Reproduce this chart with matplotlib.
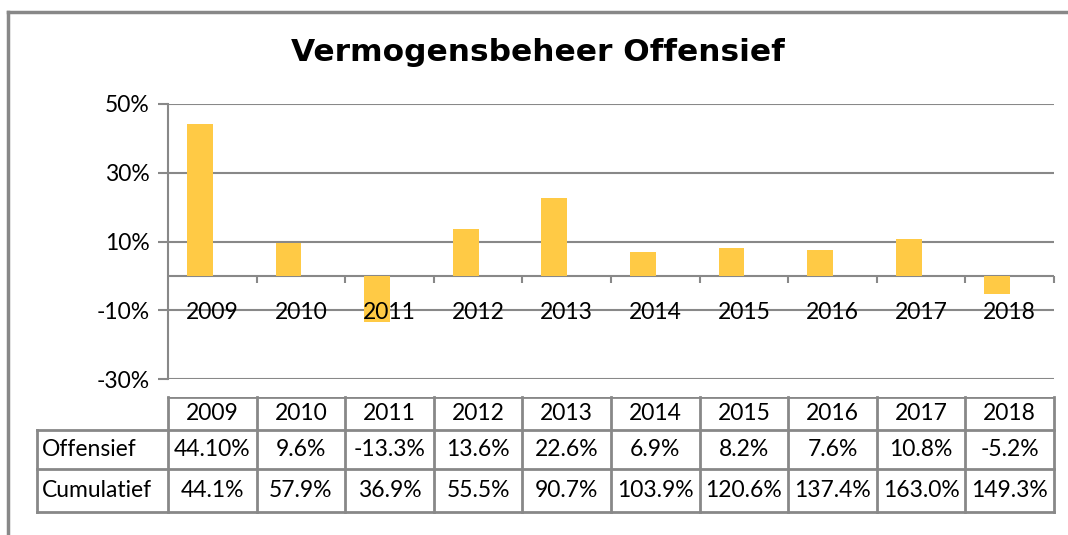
import matplotlib.pyplot as plt
import numpy as np
from matplotlib.lines import Line2D

plt.rcParams['font.family'] = ['Lato', 'DejaVu Sans']

years = ['2009', '2010', '2011', '2012', '2013', '2014', '2015', '2016', '2017', '2018']
offensief = [44.1, 9.6, -13.3, 13.6, 22.6, 6.9, 8.2, 7.6, 10.8, -5.2]
offensief_txt = ['44.10%', '9.6%', '-13.3%', '13.6%', '22.6%', '6.9%', '8.2%', '7.6%', '10.8%', '-5.2%']
cumulatief = [44.1, 57.9, 36.9, 55.5, 90.7, 103.9, 120.6, 137.4, 163.0, 149.3]
yticks = [-30, -10, 10, 30, 50]

grey = '#888888'
gold = '#FFCA45'
W, H = 1068, 535
fs = 16.5

fig = plt.figure(figsize=(W / 100, H / 100), dpi=100)

# outer chart border (left + top only visible)
fig.add_artist(Line2D([8 / W, 8 / W], [0, 1 - 12 / H], color=grey, lw=2.5))
fig.add_artist(Line2D([8 / W, 1], [1 - 12 / H, 1 - 12 / H], color=grey, lw=2.5))

fig.text(538 / W, 1 - 52 / H, 'Vermogensbeheer Offensief', ha='center', va='center',
         fontsize=22.5, fontweight='bold', family='DejaVu Sans')

# bar chart
px_l, px_r, py_t, py_b = 168, 1054, 104, 379
ax = fig.add_axes([px_l / W, 1 - py_b / H, (px_r - px_l) / W, (py_b - py_t) / H])
x = np.arange(len(years))
ax.bar(x + 0.5 - 0.14, offensief, width=0.29, color=gold, zorder=3)
ax.set_xlim(0, len(years))
ax.set_ylim(-30, 50)
ax.set_yticks(yticks)
ax.set_yticklabels([f'{t}%' for t in yticks], fontsize=fs)
ax.set_xticks([])
ax.tick_params(axis='y', length=7, width=1.5, color=grey, pad=6)
for s in ['top', 'right', 'bottom']:
    ax.spines[s].set_visible(False)
ax.spines['left'].set_color(grey)
ax.spines['left'].set_linewidth(1.5)
ax.grid(axis='y', color=grey, lw=1.5, zorder=1)
ax.set_axisbelow(True)
ax.axhline(0, color=grey, lw=1.5, zorder=2)
ax.vlines(x[1:], -2, 0, color=grey, lw=1.5)
ax.vlines([len(years)], -2, 0, color=grey, lw=1.5, clip_on=False)
for i, yr in enumerate(years):
    ax.annotate(yr, (i + 0.5, 0), xytext=(0, -26.5), textcoords='offset points',
                ha='center', va='center', fontsize=fs, zorder=4)

# data table
t_l, t_t, t_b = 37, 397, 512
lab_w = (px_l - t_l) / ((px_r - px_l) / len(years))
tax = fig.add_axes([t_l / W, 1 - t_b / H, (px_r - t_l) / W, (t_b - t_t) / H])
tax.set_xlim(-lab_w, len(years))
tax.set_ylim(t_b - t_t, 0)
tax.axis('off')
rows = [0, 33, 72, 115]
tax.plot([0, len(years)], [0, 0], color=grey, lw=2)
for r in rows[1:]:
    tax.plot([-lab_w, len(years)], [r, r], color=grey, lw=2, clip_on=False)
tax.plot([-lab_w, -lab_w], [rows[1], rows[3]], color=grey, lw=2, clip_on=False)
for c in range(len(years) + 1):
    tax.plot([c, c], [0, rows[3]], color=grey, lw=2, clip_on=False)
ymid = [(rows[k] + rows[k + 1]) / 2 for k in range(3)]
for i in range(len(years)):
    tax.text(i + 0.5, ymid[0], years[i], ha='center', va='center', fontsize=fs)
    tax.text(i + 0.5, ymid[1], offensief_txt[i], ha='center', va='center', fontsize=fs)
    tax.text(i + 0.5, ymid[2], f'{cumulatief[i]:.1f}%', ha='center', va='center', fontsize=fs)
tax.text(-lab_w + 0.05, ymid[1], 'Offensief', ha='left', va='center', fontsize=fs)
tax.text(-lab_w + 0.05, ymid[2], 'Cumulatief', ha='left', va='center', fontsize=fs)

fig.savefig('out.png', dpi=100)
